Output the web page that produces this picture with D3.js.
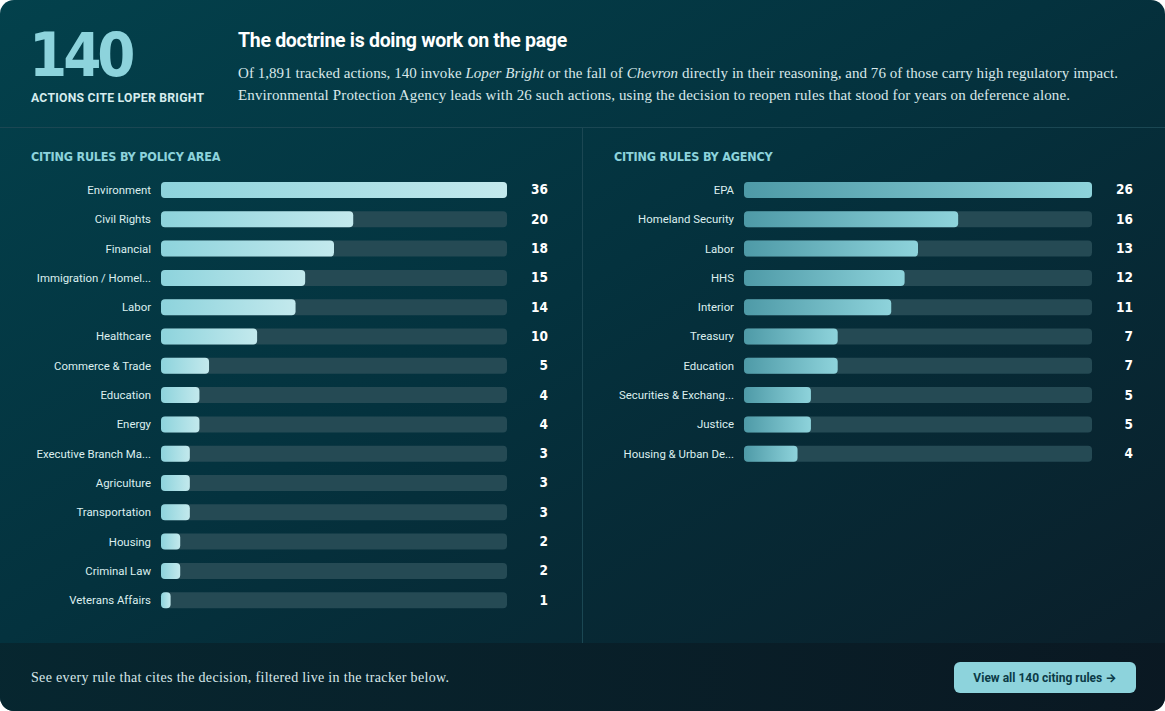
<!DOCTYPE html>
<html>
<head>
<meta charset="utf-8">
<script src="https://cdn.jsdelivr.net/npm/d3@7"></script>
<style>
html,body{margin:0;padding:0;background:#ffffff;}
svg{display:block;}
</style>
</head>
<body>
<svg id="chart" width="1165" height="711"></svg>
<script>
// ---- data ----
const policyAreas = ["Environment","Civil Rights","Financial","Immigration / Homel...","Labor","Healthcare","Commerce & Trade","Education","Energy","Executive Branch Ma...","Agriculture","Transportation","Housing","Criminal Law","Veterans Affairs"];
const policyCounts = [36,20,18,15,14,10,5,4,4,3,3,3,2,2,1];
const agencies = ["EPA","Homeland Security","Labor","HHS","Interior","Treasury","Education","Securities & Exchang...","Justice","Housing & Urban De..."];
const agencyCounts = [26,16,13,12,11,7,7,5,5,4];
const totalTracked = "1,891";
const totalCiting = 140;
const highImpact = 76;
const topAgencyName = "Environmental Protection Agency";
const topAgencyCount = 26;

const W = 1165, H = 711;
const svg = d3.select("#chart");
const defs = svg.append("defs");

const bgGrad = defs.append("linearGradient").attr("id","bg").attr("x1","0").attr("y1","0").attr("x2","1").attr("y2","1");
bgGrad.append("stop").attr("offset","0%").attr("stop-color","#03414c");
bgGrad.append("stop").attr("offset","45%").attr("stop-color","#04323e");
bgGrad.append("stop").attr("offset","100%").attr("stop-color","#0b1d28");

const footGrad = defs.append("linearGradient").attr("id","foot").attr("x1","0").attr("y1","0").attr("x2","1").attr("y2","0");
footGrad.append("stop").attr("offset","0%").attr("stop-color","#07262f");
footGrad.append("stop").attr("offset","100%").attr("stop-color","#0a1822");

const gL = defs.append("linearGradient").attr("id","barL").attr("x1","0").attr("x2","1");
gL.append("stop").attr("offset","0%").attr("stop-color","#8dd3dc");
gL.append("stop").attr("offset","100%").attr("stop-color","#c3e9ed");
const gR = defs.append("linearGradient").attr("id","barR").attr("x1","0").attr("x2","1");
gR.append("stop").attr("offset","0%").attr("stop-color","#4e9aa7");
gR.append("stop").attr("offset","100%").attr("stop-color","#8ed3db");

const clip = defs.append("clipPath").attr("id","card");
clip.append("rect").attr("x",0).attr("y",0).attr("width",W).attr("height",H).attr("rx",14);

const card = svg.append("g").attr("clip-path","url(#card)");
card.append("rect").attr("width",W).attr("height",H).attr("fill","url(#bg)");
card.append("rect").attr("x",0).attr("y",643).attr("width",W).attr("height",H-643).attr("fill","url(#foot)").attr("opacity",0.95);
card.append("line").attr("x1",0).attr("x2",W).attr("y1",127.5).attr("y2",127.5).attr("stroke","#1b4753").attr("stroke-width",1);
card.append("line").attr("x1",582.5).attr("x2",582.5).attr("y1",128).attr("y2",643).attr("stroke","#1b4753").attr("stroke-width",1);

const grot = "'DejaVu Sans Condensed','Liberation Sans Narrow','Roboto',sans-serif";
const sans = "Roboto,Inter,'Noto Sans',sans-serif";
const serif = "'Liberation Serif','DejaVu Serif',serif";

// ---- header ----
card.append("text").attr("x",29).attr("y",76).attr("font-family",grot).attr("font-weight",700)
  .attr("font-size",61).attr("fill","#8dd3dc").attr("letter-spacing",-4).text(totalCiting);
card.append("text").attr("x",31).attr("y",101.5).attr("font-family",sans).attr("font-weight",700)
  .attr("font-size",12.2).attr("fill","#d6ecee").attr("letter-spacing",0.25).text("ACTIONS CITE LOPER BRIGHT");

card.append("text").attr("x",238).attr("y",47).attr("font-family",sans).attr("font-weight",700)
  .attr("font-size",19.5).attr("fill","#ffffff").attr("letter-spacing",-0.3).text("The doctrine is doing work on the page");

const l1 = card.append("text").attr("x",238).attr("y",78).attr("font-family",serif).attr("font-size",15)
  .attr("fill","#d8e8ea").attr("textLength",880).attr("lengthAdjust","spacing");
l1.append("tspan").text(`Of ${totalTracked} tracked actions, ${totalCiting} invoke `);
l1.append("tspan").attr("font-style","italic").text("Loper Bright");
l1.append("tspan").text(" or the fall of ");
l1.append("tspan").attr("font-style","italic").text("Chevron");
l1.append("tspan").text(` directly in their reasoning, and ${highImpact} of those carry high regulatory impact.`);
card.append("text").attr("x",238).attr("y",100).attr("font-family",serif).attr("font-size",15).attr("fill","#d8e8ea")
  .attr("textLength",832).attr("lengthAdjust","spacing")
  .text(`${topAgencyName} leads with ${topAgencyCount} such actions, using the decision to reopen rules that stood for years on deference alone.`);

// ---- panels ----
function panel(opts){
  const g = card.append("g");
  g.append("text").attr("x",opts.titleX).attr("y",161).attr("font-family",grot).attr("font-weight",700)
    .attr("font-size",12.5).attr("fill","#8dd3dc").attr("letter-spacing",-0.2).text(opts.title);
  const y = d3.scaleBand().domain(opts.cats).range([175.35, 175.35 + opts.cats.length*29.3]).paddingInner(0.454).paddingOuter(0.227);
  const x = d3.scaleLinear().domain([0, d3.max(opts.vals)]).range([opts.x0, opts.x1]);
  const rows = g.selectAll("g.row").data(opts.cats.map((c,i)=>({c, v:opts.vals[i]}))).join("g").attr("class","row");
  rows.append("rect").attr("x",x(0)).attr("y",d=>y(d.c)).attr("width",x.range()[1]-x(0)).attr("height",y.bandwidth())
    .attr("rx",4).attr("fill","#254a54");
  rows.append("rect").attr("x",x(0)).attr("y",d=>y(d.c)).attr("width",d=>x(d.v)-x(0)).attr("height",y.bandwidth())
    .attr("rx",4).attr("fill",opts.fill);
  rows.append("text").attr("x",opts.labelX).attr("y",d=>y(d.c)+y.bandwidth()/2).attr("dy","0.35em")
    .attr("text-anchor","end").attr("font-family",sans).attr("font-size",11.4).attr("fill","#dcefef").text(d=>d.c);
  rows.append("text").attr("x",opts.valX).attr("y",d=>y(d.c)+y.bandwidth()/2).attr("dy","0.33em")
    .attr("text-anchor","end").attr("font-family",grot).attr("font-weight",700).attr("font-size",13.5).attr("fill","#ffffff").text(d=>d.v);
}
panel({title:"CITING RULES BY POLICY AREA", titleX:31, cats:policyAreas, vals:policyCounts, x0:161, x1:507, labelX:151, valX:548, fill:"url(#barL)"});
panel({title:"CITING RULES BY AGENCY", titleX:614, cats:agencies, vals:agencyCounts, x0:744, x1:1092, labelX:734, valX:1133, fill:"url(#barR)"});

// ---- footer ----
card.append("text").attr("x",31).attr("y",682).attr("font-family",serif).attr("font-size",14).attr("fill","#d8e8ea")
  .attr("textLength",418).attr("lengthAdjust","spacing")
  .text("See every rule that cites the decision, filtered live in the tracker below.");
card.append("rect").attr("x",954).attr("y",662).attr("width",182).attr("height",31).attr("rx",6).attr("fill","#8dd3dc");
card.append("text").attr("x",1045).attr("y",677.5).attr("dy","0.35em").attr("text-anchor","middle").attr("font-family",sans)
  .attr("font-weight",700).attr("font-size",12).attr("fill","#0b3a46").text(`View all ${totalCiting} citing rules →`);
</script>
</body>
</html>
